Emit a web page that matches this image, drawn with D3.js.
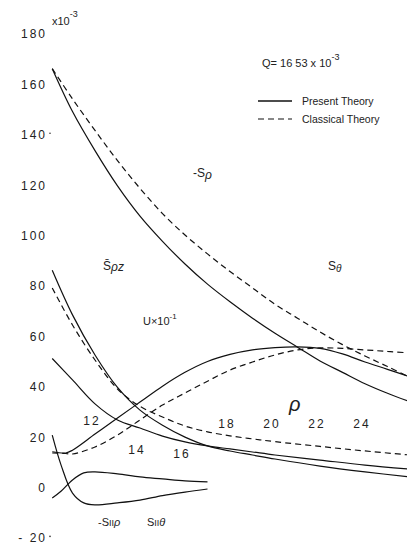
<!DOCTYPE html>
<html>
<head>
<meta charset="utf-8">
<script src="https://cdn.jsdelivr.net/npm/d3@7"></script>
<style>
  body { margin: 0; background: #fff; }
  text { font-family: "Liberation Sans", "DejaVu Sans", sans-serif; fill: #222; }
</style>
</head>
<body>
<div id="chart"></div>
<script>
// values are in units of 10^-3
const rhoMain = [10.1, 11, 12, 13, 14, 15, 16, 17, 18, 19, 20, 21, 22, 23, 24, 25, 26];
const sRhoPresent   = [166, 149, 133.5, 119.5, 107.5, 97.5, 88.5, 80.5, 73.5, 67, 61, 55.5, 50, 45.5, 41, 37.2, 33.8];
const sRhoClassical = [166, 154, 141.5, 129.5, 118.5, 108.5, 100, 92.5, 85.5, 79, 72.5, 67, 61.5, 56.5, 52, 47.8, 43.5];

const rhoU = [10.1, 10.7, 11, 12, 13, 14, 15, 16, 17, 18, 19, 20, 21, 22, 23, 24, 25, 26];
const uPresent   = [14, 13.5, 14.6, 21, 27.4, 33.7, 40, 45.5, 49.8, 52.6, 54.4, 55.3, 55.6, 55, 52.8, 49.6, 46.7, 43.7];
const uClassical = [13.5, 13.3, 13.1, 15.9, 20.6, 26.6, 32.5, 37.3, 42, 46.4, 49.6, 52.4, 54.4, 55.2, 55, 54.4, 53.8, 53.2];

const rhoSpz = [10.1, 11, 12, 13, 14, 15, 16, 17, 18, 19, 20, 22, 24, 26];
const spzPresent   = [86, 68.3, 52.4, 39.5, 30.5, 24.5, 19.8, 16.3, 14.3, 12.7, 11.1, 8.3, 6, 4];
const spzClassical = [79, 64.3, 50.4, 38.9, 32, 27.8, 24.2, 21.9, 20.3, 19.1, 18, 16.1, 14.3, 12.7];
const lowerPresent = [51, 42.5, 33, 26.6, 23.4, 20.2, 17.9, 16.3, 15.1, 13.9, 12.7, 10.7, 8.7, 7.1];

const rhoII = [10.1, 10.5, 11, 11.5, 12, 13, 14, 15, 16, 17];
const sIIrho   = [20.6, 8.5, -2.4, -6.3, -7.1, -6.3, -5.2, -3.4, -2, -0.8];
const sIItheta = [-4.4, -1.6, 2.8, 5.6, 6, 5.2, 4, 3.2, 2.4, 2];

const yTicks = [180, 160, 140, 120, 100, 80, 60, 40, 20, 0, -20];
const xTicks = [12, 14, 16, 18, 20, 22, 24];

// x labels sit wherever the curves left room
const xLabelY = { 12: 425, 14: 454, 16: 458, 18: 428, 20: 428, 22: 428, 24: 428 };

const W = 407, H = 544;

const svg = d3.select("#chart")
    .append("svg")
    .attr("width", W)
    .attr("height", H);

svg.append("rect").attr("width", W).attr("height", H).attr("fill", "#fff");

const x = d3.scaleLinear().domain([10, 26]).range([50, 410]);
const y = d3.scaleLinear().domain([-20, 180]).range([537.4, 33.4]);

const line = d3.line()
    .x(d => x(d[0]))
    .y(d => y(d[1]))
    .curve(d3.curveCatmullRom.alpha(0.5));

function drawCurve(rhos, vals, dashed) {
    svg.append("path")
        .datum(rhos.map((r, i) => [r, vals[i]]))
        .attr("d", line)
        .attr("fill", "none")
        .attr("stroke", "#111")
        .attr("stroke-width", 1.2)
        .attr("stroke-dasharray", dashed ? "6,4" : null);
}

drawCurve(rhoMain, sRhoPresent, false);
drawCurve(rhoMain, sRhoClassical, true);
drawCurve(rhoU, uPresent, false);
drawCurve(rhoU, uClassical, true);
drawCurve(rhoSpz, spzPresent, false);
drawCurve(rhoSpz, spzClassical, true);
drawCurve(rhoSpz, lowerPresent, false);
drawCurve(rhoII, sIIrho, false);
drawCurve(rhoII, sIItheta, false);

// y tick labels
svg.selectAll(".ylab")
    .data(yTicks)
    .enter()
    .append("text")
    .attr("x", 47)
    .attr("y", d => y(d) + 5)
    .attr("text-anchor", "end")
    .style("font-size", "12px")
    .style("letter-spacing", "2px")
    .text(d => d < 0 ? "- " + String(-d) : String(d));

// little tick dots that survived on the scan
[140, -20].forEach(v => {
    svg.append("circle").attr("cx", 50).attr("cy", y(v) - 1).attr("r", 0.8).attr("fill", "#333");
});

// x tick labels
svg.selectAll(".xlab")
    .data(xTicks)
    .enter()
    .append("text")
    .attr("x", d => x(d) - 3)
    .attr("y", d => xLabelY[d])
    .attr("text-anchor", "middle")
    .style("font-size", "12px")
    .style("letter-spacing", "2px")
    .text(d => String(d));

// scale factor next to 180
const sf = svg.append("text").attr("x", 52).attr("y", 25).style("font-size", "11px");
sf.append("tspan").text("x10");
sf.append("tspan").attr("dy", -8).style("font-size", "9px").text("-3");

// Q value
const q = svg.append("text").attr("x", 262).attr("y", 67).style("font-size", "11px");
q.append("tspan").text("Q= 16 53 x 10");
q.append("tspan").attr("dy", -7).style("font-size", "9px").text("-3");

// legend
svg.append("line").attr("x1", 258).attr("x2", 292).attr("y1", 101).attr("y2", 101)
    .attr("stroke", "#111").attr("stroke-width", 1.4);
svg.append("line").attr("x1", 258).attr("x2", 292).attr("y1", 119).attr("y2", 119)
    .attr("stroke", "#111").attr("stroke-width", 1.2).attr("stroke-dasharray", "6,4");
svg.append("text").attr("x", 302).attr("y", 105).style("font-size", "10.5px").text("Present  Theory");
svg.append("text").attr("x", 302).attr("y", 123).style("font-size", "10.5px").text("Classical  Theory");

// curve labels
function label(xp, yp, parts, size) {
    const t = svg.append("text").attr("x", xp).attr("y", yp).style("font-size", (size || 12) + "px");
    parts.forEach(p => {
        const s = t.append("tspan").text(p.t);
        if (p.italic) s.style("font-style", "italic");
        if (p.size) s.style("font-size", p.size + "px");
        if (p.dy) s.attr("dy", p.dy);
    });
    return t;
}

label(193, 177, [{ t: "-S" }, { t: "ρ", italic: true, dy: 2 }]);
label(328, 270, [{ t: "S" }, { t: "θ", italic: true, size: 10, dy: 2 }]);
label(103, 270, [{ t: "S\u0304" }, { t: "ρz", italic: true, dy: 1 }]);
label(143, 325, [{ t: "U×10" }, { t: "-1", size: 8, dy: -6 }], 11);
label(289, 411, [{ t: "ρ", italic: true }], 20);
label(98, 526, [{ t: "-S" }, { t: "II", size: 9 }, { t: "ρ", italic: true }], 11);
label(147, 526, [{ t: "S" }, { t: "II", size: 9 }, { t: "θ", italic: true }], 11);
</script>
</body>
</html>
